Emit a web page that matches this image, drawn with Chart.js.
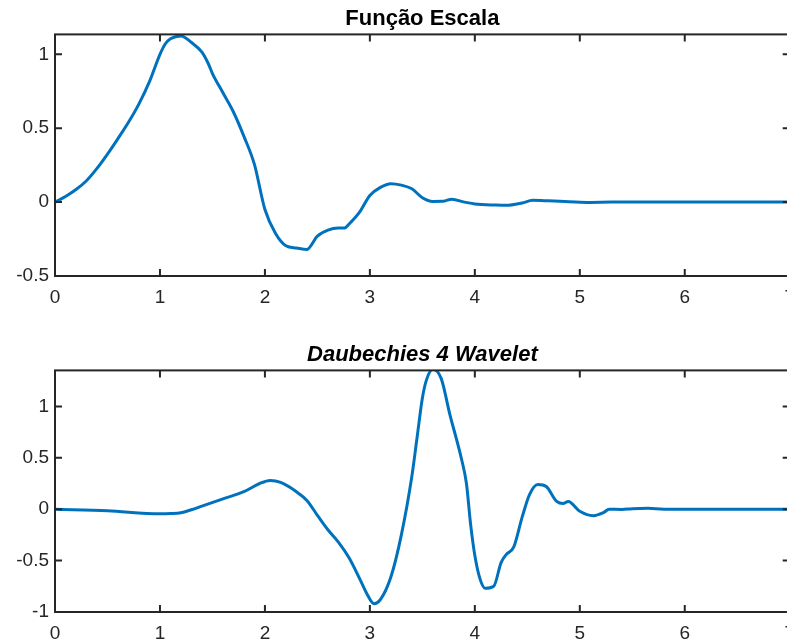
<!DOCTYPE html>
<html>
<head>
<meta charset="utf-8">
<script src="https://cdn.jsdelivr.net/npm/chart.js@4/dist/chart.umd.min.js"></script>
<style>
  html, body { margin: 0; padding: 0; background: #ffffff; overflow: hidden; width: 787px; height: 644px; }
  canvas { position: absolute; left: 0; }
  #c1 { top: 0; }
  #c2 { top: 322px; }
</style>
</head>
<body>
<canvas id="c1" width="805" height="322"></canvas>
<canvas id="c2" width="805" height="322"></canvas>
<script>
// ---- Data ----
const xTicks = [0, 1, 2, 3, 4, 5, 6, 7];
const yTicksTop = [-0.5, 0, 0.5, 1];
const yTicksBottom = [-1, -0.5, 0, 0.5, 1];

const titleTop = 'Função Escala';
const titleBottom = 'Daubechies 4 Wavelet';

// Scaling function (phi)
const phiX = [0, 0.1, 0.2, 0.3, 0.4, 0.5, 0.6, 0.7, 0.8, 0.9, 1.0, 1.05, 1.1, 1.2, 1.3, 1.4, 1.46, 1.5, 1.6, 1.7, 1.8, 1.9, 2.0, 2.1, 2.2, 2.3, 2.4, 2.5, 2.6, 2.7, 2.76, 2.8, 2.9, 3.0, 3.1, 3.2, 3.3, 3.4, 3.5, 3.6, 3.7, 3.78, 3.9, 4.0, 4.2, 4.3, 4.45, 4.55, 4.7, 4.9, 5.1, 5.3, 6.0, 7.0];
const phiY = [0, 0.038, 0.085, 0.145, 0.228, 0.325, 0.43, 0.54, 0.665, 0.815, 1.0, 1.07, 1.105, 1.125, 1.08, 1.015, 0.938, 0.87, 0.74, 0.61, 0.445, 0.255, -0.05, -0.21, -0.295, -0.31, -0.32, -0.23, -0.19, -0.176, -0.175, -0.15, -0.07, 0.045, 0.10, 0.125, 0.115, 0.09, 0.03, 0.005, 0.006, 0.02, 0.0, -0.012, -0.02, -0.022, -0.006, 0.012, 0.009, 0.003, -0.002, 0, 0, 0];

// Wavelet (psi)
const psiX = [0, 0.5, 1.0, 1.1, 1.2, 1.3, 1.4, 1.6, 1.8, 1.95, 2.05, 2.15, 2.3, 2.4, 2.5, 2.6, 2.7, 2.8, 2.9, 2.97, 3.04, 3.1, 3.2, 3.3, 3.4, 3.45, 3.5, 3.54, 3.6, 3.68, 3.76, 3.87, 3.92, 3.96, 4.0, 4.05, 4.1, 4.18, 4.25, 4.3, 4.37, 4.45, 4.52, 4.6, 4.68, 4.78, 4.84, 4.89, 5.0, 5.13, 5.22, 5.28, 5.4, 5.5, 5.65, 5.8, 7.0];
const psiY = [0, -0.015, -0.045, -0.043, -0.035, -0.005, 0.03, 0.10, 0.17, 0.25, 0.28, 0.26, 0.17, 0.085, -0.06, -0.2, -0.32, -0.47, -0.67, -0.82, -0.92, -0.88, -0.66, -0.25, 0.32, 0.7, 1.08, 1.26, 1.36, 1.27, 0.93, 0.5, 0.25, -0.15, -0.45, -0.68, -0.77, -0.75, -0.52, -0.44, -0.37, -0.08, 0.14, 0.24, 0.22, 0.076, 0.055, 0.075, -0.02, -0.063, -0.037, 0.0, -0.003, 0.005, 0.008, 0, 0];

// ---- Styling ----
const LINE_COLOR = '#0072BD';
const AXIS_COLOR = '#262626';
const FONT = "'Liberation Sans', Arial, Helvetica, sans-serif";

const boxPlugin = {
  id: 'matlabBox',
  afterDraw(chart) {
    const ctx = chart.ctx;
    const a = chart.chartArea;
    const xs = chart.scales.x, ys = chart.scales.y;
    const tl = 7;
    ctx.save();
    ctx.strokeStyle = AXIS_COLOR;
    ctx.lineWidth = 2;
    ctx.strokeRect(a.left, a.top, a.right - a.left, a.bottom - a.top);
    ctx.beginPath();
    xs.ticks.forEach(t => {
      const px = xs.getPixelForValue(t.value);
      ctx.moveTo(px, a.bottom); ctx.lineTo(px, a.bottom - tl);
      ctx.moveTo(px, a.top); ctx.lineTo(px, a.top + tl);
    });
    ys.ticks.forEach(t => {
      const py = ys.getPixelForValue(t.value);
      ctx.moveTo(a.left, py); ctx.lineTo(a.left + tl, py);
      ctx.moveTo(a.right, py); ctx.lineTo(a.right - tl, py);
    });
    ctx.stroke();
    ctx.restore();
  }
};

function makeChart(id, xs, ys, yMin, yMax, yTicks, title, italic, titlePad, xHeight) {
  const pts = xs.map((x, i) => ({ x: x, y: ys[i] }));
  return new Chart(document.getElementById(id), {
    type: 'line',
    data: {
      datasets: [{
        data: pts,
        borderColor: LINE_COLOR,
        borderWidth: 3,
        pointRadius: 0,
        fill: false,
        cubicInterpolationMode: 'monotone'
      }]
    },
    options: {
      responsive: false,
      animation: false,
      devicePixelRatio: 1,
      layout: { padding: { left: 0, right: 6, top: 0, bottom: 0 } },
      plugins: {
        legend: { display: false },
        tooltip: { enabled: false },
        title: {
          display: true,
          fullSize: false,
          text: title,
          color: '#000000',
          font: { family: FONT, size: 22, weight: 'bold', style: italic ? 'italic' : 'normal', lineHeight: 1.2 },
          padding: titlePad
        }
      },
      scales: {
        x: {
          type: 'linear',
          min: 0, max: 7,
          grid: { display: false, drawTicks: false },
          border: { display: false },
          afterBuildTicks: s => { s.ticks = xTicks.map(v => ({ value: v })); },
          afterFit: s => { s.height = xHeight; },
          ticks: {
            color: AXIS_COLOR,
            font: { family: FONT, size: 19 },
            padding: 10,
            maxRotation: 0,
            autoSkip: false,
            callback: v => String(v)
          }
        },
        y: {
          type: 'linear',
          min: yMin, max: yMax,
          grid: { display: false, drawTicks: false },
          border: { display: false },
          afterBuildTicks: s => { s.ticks = yTicks.map(v => ({ value: v })); },
          afterFit: s => { s.width = 55; },
          ticks: {
            color: AXIS_COLOR,
            font: { family: FONT, size: 19 },
            padding: 6,
            autoSkip: false,
            callback: v => String(v)
          }
        }
      }
    },
    plugins: [boxPlugin]
  });
}

makeChart('c1', phiX, phiY, -0.5, 1.135, yTicksTop, titleTop, false, { top: 6, bottom: 2 }, 46);
makeChart('c2', psiX, psiY, -1, 1.35, yTicksBottom, titleBottom, true, { top: 20, bottom: 2 }, 32);
</script>
</body>
</html>
